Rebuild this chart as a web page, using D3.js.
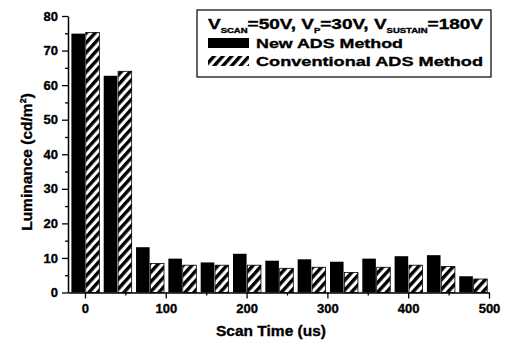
<!DOCTYPE html>
<html>
<head>
<meta charset="utf-8">
<script src="https://cdn.jsdelivr.net/npm/d3@7"></script>
<style>
  body { margin: 0; background: #fff; }
  text { font-family: "Liberation Sans", Arial, sans-serif; font-weight: bold; fill: #000; stroke: #000; stroke-width: 0.35px; }
</style>
</head>
<body>
<svg id="chart" width="506" height="342"></svg>
<script>
// scan times (us) and luminance values
var scanTimes = [0, 40, 80, 120, 160, 200, 240, 280, 320, 360, 400, 440, 480];
var newADS = [74.9, 62.7, 13.1, 9.8, 8.7, 11.2, 9.2, 9.6, 8.9, 9.8, 10.5, 10.8, 4.7];
var convADS = [75.2, 64.0, 8.4, 7.9, 7.9, 7.9, 7.0, 7.3, 5.8, 7.3, 7.9, 7.5, 3.9];
var xTicks = [0, 100, 200, 300, 400, 500];
var yTicks = [0, 10, 20, 30, 40, 50, 60, 70, 80];

var svg = d3.select("#chart");

var x = d3.scaleLinear().domain([-21, 500]).range([68, 489]);
var y = d3.scaleLinear().domain([0, 80]).range([292.5, 16]);
var barW = 16.8, gap = 1;

// hatch pattern "////"
var defs = svg.append("defs");
defs.append("pattern")
    .attr("id", "hatch")
    .attr("patternUnits", "userSpaceOnUse")
    .attr("width", 6.5).attr("height", 6.5)
    .attr("patternTransform", "rotate(42)")
  .append("rect")
    .attr("x", 0).attr("y", 0)
    .attr("width", 3.4).attr("height", 6.5)
    .attr("fill", "#000");

// bars - new method (solid black)
svg.append("g").selectAll("rect")
    .data(scanTimes)
  .enter().append("rect")
    .attr("x", function (d) { return x(d - barW); })
    .attr("width", function (d) { return x(d) - x(d - barW); })
    .attr("y", function (d, i) { return y(newADS[i]); })
    .attr("height", function (d, i) { return y(0) - y(newADS[i]); })
    .attr("fill", "#000");

// bars - conventional (hatched)
svg.append("g").selectAll("rect")
    .data(scanTimes)
  .enter().append("rect")
    .attr("x", function (d) { return x(d + gap); })
    .attr("width", function (d) { return x(d + gap + barW) - x(d + gap); })
    .attr("y", function (d, i) { return y(convADS[i]); })
    .attr("height", function (d, i) { return y(0) - y(convADS[i]); })
    .attr("fill", "url(#hatch)")
    .attr("stroke", "#000")
    .attr("stroke-width", 0.8);

// axes
svg.append("g")
    .attr("transform", "translate(0," + y(0) + ")")
    .call(d3.axisBottom(x).tickValues(xTicks).tickSize(6).tickPadding(5).tickSizeOuter(0));
svg.append("g")
    .attr("transform", "translate(0," + y(0) + ")")
    .call(d3.axisBottom(x).tickValues([50, 150, 250, 350, 450]).tickSize(3).tickFormat("").tickSizeOuter(0))
    .select(".domain").remove();

svg.append("g")
    .attr("transform", "translate(" + x(-21) + ",0)")
    .call(d3.axisLeft(y).tickValues(yTicks).tickSize(6).tickPadding(4).tickSizeOuter(0));
svg.append("g")
    .attr("transform", "translate(" + x(-21) + ",0)")
    .call(d3.axisLeft(y).tickValues([5, 15, 25, 35, 45, 55, 65, 75]).tickSize(3).tickFormat("").tickSizeOuter(0))
    .select(".domain").remove();

svg.selectAll(".domain").attr("stroke-width", 1.5);
svg.selectAll(".tick line").attr("stroke-width", 1.3);
svg.selectAll(".tick text")
    .style("font-family", "'Liberation Sans', Arial, sans-serif")
    .style("font-weight", "bold")
    .style("font-size", "13px");

// axis titles
svg.append("text")
    .attr("x", 271).attr("y", 336)
    .attr("text-anchor", "middle")
    .style("font-size", "15.5px")
    .text("Scan Time (us)");

var yt = svg.append("text")
    .attr("transform", "translate(32,162) rotate(-90)")
    .attr("text-anchor", "middle")
    .style("font-size", "15.5px");
yt.append("tspan").text("Luminance (cd/m");
yt.append("tspan").attr("dy", -6).style("font-size", "9px").text("2");
yt.append("tspan").attr("dy", 6).text(")");

// legend
var lg = svg.append("g");
lg.append("rect")
    .attr("x", 197).attr("y", 10)
    .attr("width", 294).attr("height", 67)
    .attr("fill", "#fff")
    .attr("stroke", "#000")
    .attr("stroke-width", 1.2);

var l1 = lg.append("text")
    .attr("x", 208).attr("y", 29)
    .attr("textLength", 275).attr("lengthAdjust", "spacingAndGlyphs")
    .style("font-size", "14px");
var parts = [["V", false], ["SCAN", true], ["=50V, V", false], ["P", true], ["=30V, V", false], ["SUSTAIN", true], ["=180V", false]];
parts.forEach(function (p, i) {
    var t = l1.append("tspan").text(p[0]);
    if (p[1]) t.attr("dy", 3.5).style("font-size", "7px");
    else if (i > 0) t.attr("dy", -3.5);
});

lg.append("rect")
    .attr("x", 208).attr("y", 38).attr("width", 41).attr("height", 10)
    .attr("fill", "#000");
lg.append("text")
    .attr("x", 256).attr("y", 48)
    .attr("textLength", 147).attr("lengthAdjust", "spacingAndGlyphs")
    .style("font-size", "13.5px")
    .text("New ADS Method");

lg.append("rect")
    .attr("x", 208).attr("y", 56).attr("width", 41).attr("height", 10)
    .attr("fill", "url(#hatch)");
lg.append("text")
    .attr("x", 256).attr("y", 66)
    .attr("textLength", 227).attr("lengthAdjust", "spacingAndGlyphs")
    .style("font-size", "13.5px")
    .text("Conventional ADS Method");
</script>
</body>
</html>
